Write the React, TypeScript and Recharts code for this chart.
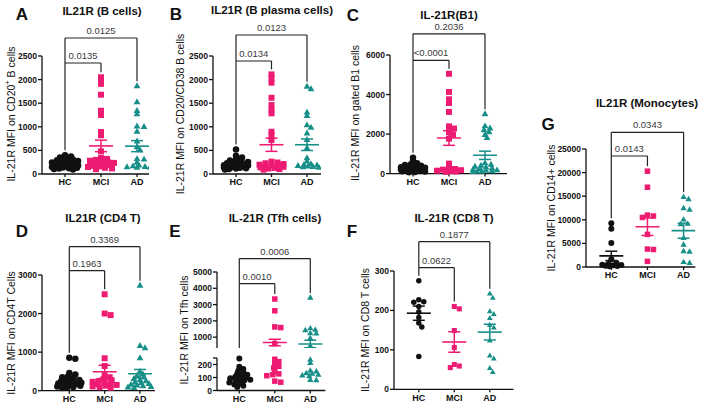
import React from "react";
import { ScatterChart, Scatter, XAxis, YAxis, ReferenceLine, ErrorBar } from "recharts";

const FONT = '"Liberation Sans", Arial, Helvetica, sans-serif';
const GROUPS = ["HC", "MCI", "AD"];
const COLORS = ["#111111", "#ee1b72", "#178f89"];

// A - IL21R (B cells)
const A_HC = [395, 372, 348, 320, 305, 290, 278, 265, 256, 244, 232, 224, 214, 206, 198, 188, 180, 172, 164, 156, 148, 140, 132, 124, 116, 105, 96];
const A_MCI = [2050, 1980, 1910, 1680, 1340, 1250, 890, 820, 480, 340, 320, 300, 282, 268, 250, 236, 222, 210, 198, 186, 172, 160, 148, 132, 118, 102];
const A_AD = [1860, 1520, 1335, 1265, 1005, 995, 895, 690, 565, 505, 315, 305, 240, 178, 162, 150, 144, 138, 130];
const A_MEAN = [215, 595, 590];
const A_SEM = [14, 122, 117];
const A_P = ["0.0135", "0.0125"];
const A_TICKS = [0, 500, 1000, 1500, 2000, 2500];

// B - IL21R (B plasma cells)
const B_HC = [520, 385, 350, 312, 288, 270, 256, 244, 230, 218, 206, 196, 186, 178, 170, 162, 154, 146, 138, 130, 122, 114, 104, 96];
const B_MCI = [2110, 2030, 1935, 1615, 1460, 1355, 1285, 895, 825, 720, 262, 244, 228, 212, 198, 186, 175, 164, 152, 140, 128, 116, 104, 92];
const B_AD = [1850, 1795, 1300, 1230, 1030, 980, 860, 720, 545, 335, 262, 205, 192, 180, 170, 160, 150, 140, 130];
const B_MEAN = [195, 620, 620];
const B_SEM = [18, 140, 122];
const B_P = ["0.0134", "0.0123"];
const B_TICKS = [0, 500, 1000, 1500, 2000, 2500];

// C - IL-21R(B1)
const C_HC = [800, 640, 520, 470, 430, 395, 365, 340, 318, 296, 276, 258, 240, 224, 208, 192, 176, 160, 146, 130, 116, 100, 84, 66];
const C_MCI = [5050, 4130, 3760, 3570, 3120, 2390, 2280, 2100, 1970, 1770, 505, 270, 232, 200, 172, 148, 126, 104, 86];
const C_AD = [3000, 2390, 2280, 2190, 2090, 1950, 1800, 520, 450, 400, 350, 302, 262, 224, 190, 162, 140, 120, 102, 88, 76];
const C_MEAN = [260, 1800, 925];
const C_SEM = [40, 370, 210];
const C_P = ["<0.0001", "0.2036"];
const C_TICKS = [0, 2000, 4000, 6000];

// D - IL21R (CD4 T)
const D_HC = [855, 830, 460, 420, 380, 350, 322, 300, 280, 260, 240, 222, 204, 188, 172, 156, 140, 125, 110, 96, 82, 70];
const D_MCI = [2500, 2000, 1960, 840, 640, 400, 350, 305, 272, 250, 230, 210, 190, 170, 150, 130, 110, 92, 76];
const D_AD = [2720, 1160, 1100, 840, 490, 420, 380, 340, 305, 272, 242, 214, 192, 172, 152, 132, 112, 96, 82, 70];
const D_MEAN = [235, 490, 440];
const D_SEM = [45, 170, 110];
const D_P = ["0.1963", "0.3369"];
const D_TICKS = [0, 1000, 2000, 3000];

// E - IL-21R (Tfh cells), broken axis
const E_HC = [246, 182, 166, 152, 140, 130, 122, 114, 106, 100, 94, 88, 82, 76, 70, 62, 55, 46, 36, 26];
const E_MCI = [3340, 2620, 1630, 1590, 610, 240, 222, 204, 186, 174, 146, 128, 122, 114, 72, 64];
const E_AD = [3410, 1530, 1440, 1420, 1230, 1210, 920, 450, 235, 210, 150, 145, 132, 128, 120, 114, 108, 80, 78];
const E_MEAN = [92, 674, 585];
const E_SEM = [12, 200, 230];
const E_P = ["0.0010", "0.0006"];
const E_TICKS_HI = [300, 1000, 2000, 3000, 4000, 5000];
const E_TICKS_LO = [0, 100, 200, 250];

// F - IL-21R (CD8 T)
const F_HC = [275, 227, 222, 221, 210, 196, 182, 168, 158, 83];
const F_MCI = [210, 204, 149, 106, 63, 59, 55];
const F_AD = [242, 231, 197, 190, 180, 163, 156, 123, 85, 77, 53, 43];
const F_MEAN = [193, 120, 145];
const F_SEM = [18, 26, 20];
const F_P = ["0.0622", "0.1877"];
const F_TICKS = [0, 100, 200, 300];

// G - IL21R (Monocytes)
const G_HC = [9260, 8120, 5085, 1630, 900, 640, 500, 410, 320, 280, 200, 160];
const G_MCI = [20300, 16900, 11000, 10800, 10500, 6900, 3800, 3700, 1200];
const G_AD = [14800, 14300, 12400, 12100, 10000, 9100, 9000, 6100, 4700, 3300, 3200, 1000, 800];
const G_MEAN = [2350, 8540, 7700];
const G_SEM = [1000, 1850, 1600];
const G_P = ["0.0143", "0.0343"];
const G_TICKS = [0, 5000, 10000, 15000, 20000, 25000];

// layout of each panel (page pixels); sw = swarm settings [vertical weight, spacing factor]
const PANELS: any[] = [
  {
    letter: "A", title: "IL21R (B cells)", ylabel: ["IL-21R MFI on CD20", "+", " B cells"],
    values: [A_HC, A_MCI, A_AD], mean: A_MEAN, sem: A_SEM, p: A_P,
    left: 42, right: 149, hcX: 65, adX: 137, size: 6.5, spread: 13, sw: [2, 0.95],
    segs: [{ min: 0, max: 2500, ticks: A_TICKS, blank: [], top: 56, bottom: 174, x: true, br: true }],
    outer: 38, inner: 63, titleAt: [102, 11], letterAt: [22, 14], ylabelAt: [11, 114],
  },
  {
    letter: "B", title: "IL21R (B plasma cells)", ylabel: ["IL-21R MFI on CD20/CD38 B cells"],
    values: [B_HC, B_MCI, B_AD], mean: B_MEAN, sem: B_SEM, p: B_P,
    left: 213, right: 321, hcX: 236, adX: 307, size: 6.5, spread: 12, sw: [2, 0.95],
    segs: [{ min: 0, max: 2500, ticks: B_TICKS, blank: [], top: 56, bottom: 174, x: true, br: true }],
    outer: 35, inner: 61, titleAt: [272, 10], letterAt: [176, 14], ylabelAt: [180, 114],
  },
  {
    letter: "C", title: "IL-21R(B1)", ylabel: ["IL-21R MFI on gated B1 cells"],
    values: [C_HC, C_MCI, C_AD], mean: C_MEAN, sem: C_SEM, p: C_P,
    left: 390, right: 507, hcX: 413, adX: 485, size: 6.5, spread: 12, sw: [2, 0.95],
    segs: [{ min: 0, max: 6000, ticks: C_TICKS, blank: [], top: 54.7, bottom: 173.3, x: true, br: true }],
    outer: 33.5, inner: 60, titleAt: [449, 15], letterAt: [353, 15], ylabelAt: [355, 113],
  },
  {
    letter: "D", title: "IL21R (CD4 T)", ylabel: ["IL-21R MFI on CD4T Cells"],
    values: [D_HC, D_MCI, D_AD], mean: D_MEAN, sem: D_SEM, p: D_P,
    left: 42, right: 155, hcX: 69.3, adX: 140, size: 6.5, spread: 12, sw: [2, 0.95],
    segs: [{ min: 0, max: 3000, ticks: D_TICKS, blank: [], top: 275, bottom: 390.7, x: true, br: true }],
    outer: 246.7, inner: 270.7, titleAt: [103, 218], letterAt: [22, 231], ylabelAt: [11, 333],
  },
  {
    letter: "E", title: "IL-21R (Tfh cells)", ylabel: ["IL-21R MFI on Tfh cells"],
    values: [E_HC, E_MCI, E_AD], mean: E_MEAN, sem: E_SEM, p: E_P,
    left: 216.7, right: 325, hcX: 239, adX: 310, size: 6, spread: 12, sw: [2, 0.95],
    segs: [
      { min: 300, max: 5000, ticks: E_TICKS_HI, blank: [300], top: 271.7, bottom: 348.3, x: false, br: true },
      { min: 0, max: 250, ticks: E_TICKS_LO, blank: [250], top: 357.8, bottom: 390.3, x: true, br: false },
    ],
    outer: 258.3, inner: 283.3, titleAt: [275, 218], letterAt: [175, 231], ylabelAt: [184, 330],
  },
  {
    letter: "F", title: "IL-21R (CD8 T)", ylabel: ["IL-21R MFI on CD8 T cells"],
    values: [F_HC, F_MCI, F_AD], mean: F_MEAN, sem: F_SEM, p: F_P,
    left: 393.5, right: 513, hcX: 418.3, adX: 489.3, size: 5.5, spread: 10, sw: [1, 0.88],
    segs: [{ min: 0, max: 300, ticks: F_TICKS, blank: [], top: 271, bottom: 389.3, x: true, br: true }],
    outer: 241.7, inner: 267.7, titleAt: [454, 218], letterAt: [352, 231], ylabelAt: [365, 330],
  },
  {
    letter: "G", title: "IL21R (Monocytes)", ylabel: ["IL-21R MFI on CD14+ cells"],
    values: [G_HC, G_MCI, G_AD], mean: G_MEAN, sem: G_SEM, p: G_P,
    left: 585.7, right: 695, hcX: 611, adX: 683.3, size: 6, spread: 10, sw: [1, 0.88],
    segs: [{ min: 0, max: 25000, ticks: G_TICKS, blank: [], top: 149, bottom: 267, x: true, br: true }],
    outer: 132.3, inner: 156, titleAt: [647, 103], letterAt: [548, 124], ylabelAt: [551, 208],
  },
];

function segOf(p: any, v: number) {
  for (const s of p.segs) if (v >= s.min && v <= s.max) return s;
  return p.segs[p.segs.length - 1];
}

function pxOf(seg: any, v: number) {
  return seg.bottom - ((v - seg.min) / (seg.max - seg.min)) * (seg.bottom - seg.top);
}

// beeswarm, offsets in px
function swarm(vals: number[], toPx: (v: number) => number, size: number, spread: number, sw: number[]) {
  const order = vals.map((_, i) => i).sort((a, b) => vals[b] - vals[a]);
  const placed: { x: number; y: number }[] = [];
  const out: number[] = vals.map(() => 0);
  const cands = [0];
  for (let d = 1; d <= spread; d++) cands.push(d, -d);
  const thr = size * sw[1];
  for (const i of order) {
    const y = toPx(vals[i]);
    let best = 0;
    let bestD = -1;
    for (const c of cands) {
      let md = Infinity;
      for (const q of placed) md = Math.min(md, Math.hypot(q.x - c, (q.y - y) * sw[0]));
      if (md >= thr) { best = c; break; }
      if (md > bestD) { bestD = md; best = c; }
    }
    placed.push({ x: best, y });
    out[i] = best;
  }
  return out;
}

function marker(gi: number, size: number) {
  const color = COLORS[gi];
  return (props: any) => {
    const { cx, cy } = props;
    if (gi === 0) return <circle cx={cx} cy={cy} r={size / 2} fill={color} />;
    if (gi === 1) {
      const a = size * 0.92;
      return <rect x={cx - a / 2} y={cy - a / 2} width={a} height={a} fill={color} />;
    }
    const a = size * 1.05;
    const h = a * 0.866;
    return (
      <polygon
        points={`${cx},${cy - (2 * h) / 3} ${cx - a / 2},${cy + h / 3} ${cx + a / 2},${cy + h / 3}`}
        fill={color}
      />
    );
  };
}

function meanShape(gi: number) {
  return (props: any) => (
    <line x1={props.cx - 12} x2={props.cx + 12} y1={props.cy} y2={props.cy} stroke={COLORS[gi]} strokeWidth={1.6} />
  );
}

function SegmentChart({ p, seg, offsets }: any) {
  const YW = 44;
  const MR = 6;
  const MT = seg.br ? 50 : 4;
  const XH = seg.x ? 22 : 0;
  const plotW = p.right - p.left;
  const plotH = seg.bottom - seg.top;
  const unit = (p.adX - p.hcX) / 2;
  const xDom = [1 - (p.hcX - p.left) / unit, 3 + (p.right - p.adX) / unit];
  const toVal = (py: number) => seg.min + ((seg.bottom - py) / plotH) * (seg.max - seg.min);

  const GAP = 5;
  const legEnd = (gi: number) => {
    const m = Math.max(...p.values[gi]);
    if (m < seg.min) return seg.min;
    return toVal(pxOf(seg, m) - GAP);
  };
  const yo = toVal(p.outer);
  const yi = toVal(p.inner);
  const line = (key: string, x1: number, y1: number, x2: number, y2: number, label?: string) => (
    <ReferenceLine
      key={key}
      segment={[{ x: x1, y: y1 }, { x: x2, y: y2 }]}
      stroke="#222"
      strokeWidth={1.2}
      ifOverflow="visible"
      label={label ? { value: label, position: "top", offset: 4, fontSize: 9.5, fill: "#3a3a3a", fontFamily: FONT } : undefined}
    />
  );

  const axisStyle = { stroke: "#111", strokeWidth: 1.3 };
  const tickFont = { fontSize: 8.5, fontWeight: 700, fill: "#111", fontFamily: FONT };

  return (
    <div style={{ position: "absolute", left: p.left - YW, top: seg.top - MT }}>
      <ScatterChart width={YW + plotW + MR} height={MT + plotH + XH} margin={{ top: MT, right: MR, bottom: 0, left: 0 }}>
        <XAxis
          type="number"
          dataKey="x"
          domain={xDom}
          allowDataOverflow
          ticks={[1, 2, 3]}
          interval={0}
          tickFormatter={(v: number) => GROUPS[Math.round(v) - 1]}
          hide={!seg.x}
          height={seg.x ? XH : undefined}
          axisLine={axisStyle}
          tickLine={axisStyle}
          tickSize={3}
          tickMargin={2}
          tick={{ ...tickFont, fontSize: 9 }}
        />
        <YAxis
          type="number"
          dataKey="y"
          domain={[seg.min, seg.max]}
          ticks={seg.ticks}
          interval={0}
          width={YW}
          tickFormatter={(v: number) => (seg.blank.includes(v) ? "" : String(v))}
          axisLine={axisStyle}
          tickLine={axisStyle}
          tickSize={4}
          tickMargin={1}
          tick={tickFont}
        />
        {p.values.map((vals: number[], gi: number) => {
          const pts = vals
            .map((v, i) => ({ x: gi + 1 + offsets[gi][i] / unit, y: v }))
            .filter((d) => d.y >= seg.min && d.y <= seg.max);
          return (
            <Scatter key={"g" + gi} data={pts} shape={marker(gi, p.size)} isAnimationActive={false} />
          );
        })}
        {p.mean.map((m: number, gi: number) =>
          m >= seg.min && m <= seg.max ? (
            <Scatter
              key={"m" + gi}
              data={[{ x: gi + 1, y: m, sem: p.sem[gi] }]}
              shape={meanShape(gi)}
              isAnimationActive={false}
            >
              <ErrorBar dataKey="sem" direction="y" width={6} stroke={COLORS[gi]} strokeWidth={1.5} isAnimationActive={false} />
            </Scatter>
          ) : null
        )}
        {seg.br && [
          line("in-h", 1, yi, 2, yi, p.p[0]),
          line("in-l", 1, yi, 1, legEnd(0)),
          line("in-r", 2, yi, 2, legEnd(1)),
          line("out-h", 1, yo, 3, yo, p.p[1]),
          line("out-l", 1, yo, 1, yi),
          line("out-r", 3, yo, 3, legEnd(2)),
        ]}
      </ScatterChart>
    </div>
  );
}

function Panel({ p }: any) {
  const toPx = (v: number) => pxOf(segOf(p, v), v);
  const offsets = p.values.map((vals: number[]) => swarm(vals, toPx, p.size, p.spread, p.sw));
  return (
    <>
      {p.segs.map((seg: any, i: number) => (
        <SegmentChart key={i} p={p} seg={seg} offsets={offsets} />
      ))}
    </>
  );
}

export default function App() {
  return (
    <div style={{ position: "absolute", left: 0, top: 0, width: 708, height: 406, background: "#fff", fontFamily: FONT }}>
      <svg width={708} height={406} style={{ position: "absolute", left: 0, top: 0 }} fontFamily={FONT}>
        {PANELS.map((p) => (
          <g key={p.letter}>
            <text x={p.titleAt[0]} y={p.titleAt[1]} textAnchor="middle" dominantBaseline="central" fontSize={11.5} fontWeight={700} fill="#111">
              {p.title}
            </text>
            <text x={p.letterAt[0]} y={p.letterAt[1]} textAnchor="middle" dominantBaseline="central" fontSize={17} fontWeight={700} fill="#111">
              {p.letter}
            </text>
            <text
              x={p.ylabelAt[0]}
              y={p.ylabelAt[1]}
              transform={`rotate(-90 ${p.ylabelAt[0]} ${p.ylabelAt[1]})`}
              textAnchor="middle"
              dominantBaseline="central"
              fontSize={10.5}
              fill="#111"
            >
              {p.ylabel.map((t: string, i: number) =>
                i % 2 === 1 ? (
                  <tspan key={i} fontSize={7.5} dy={-4}>{t}</tspan>
                ) : (
                  <tspan key={i} dy={i > 0 ? 4 : 0}>{t}</tspan>
                )
              )}
            </text>
          </g>
        ))}
      </svg>
      {PANELS.map((p) => (
        <Panel key={p.letter} p={p} />
      ))}
    </div>
  );
}
